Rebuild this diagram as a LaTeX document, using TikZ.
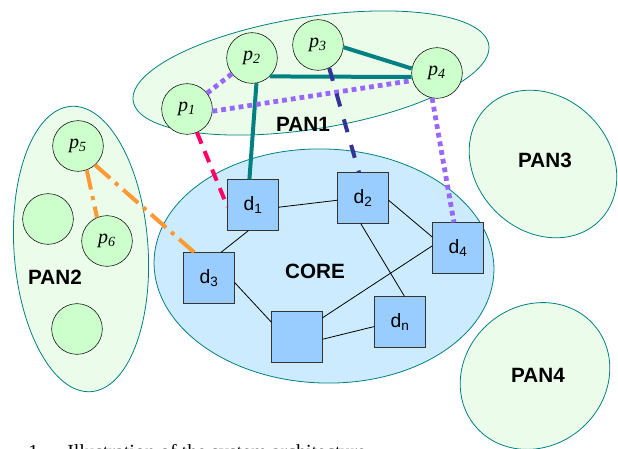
\documentclass[tikz,border=0pt]{standalone}
\usepackage{fontspec}
\setmainfont{Liberation Serif}
\setsansfont{Liberation Sans}
\definecolor{panline}{HTML}{008080}
\definecolor{panfill}{HTML}{EBFCEB}
\definecolor{corefill}{HTML}{CCEBFF}
\definecolor{peerfill}{HTML}{CCFFCC}
\definecolor{devfill}{HTML}{99CCFF}
\definecolor{lilac}{HTML}{9966FF}
\definecolor{navy}{HTML}{333399}
\definecolor{rose}{HTML}{FF0066}
\definecolor{amber}{HTML}{FF9933}
\begin{document}
\begin{tikzpicture}[x=0.75pt,y=-0.75pt,
  pan/.style={draw=panline, fill=panfill, line width=0.6pt},
  peer/.style={draw, circle, fill=peerfill, minimum size=38pt, inner sep=0pt,
    font=\fontsize{15}{15}\selectfont\itshape},
  dev/.style={draw=black!80, fill=devfill, minimum size=38pt, inner sep=0pt,
    font=\fontsize{14.5}{14.5}\sffamily},
  group/.style={font=\fontsize{15.5}{16}\sffamily\bfseries},
  corelink/.style={line width=0.6pt},
  teallink/.style={draw=panline, line width=3pt},
  lilaclink/.style={draw=lilac, line width=3.6pt, dash pattern=on 3.6pt off 3pt},
  navylink/.style={draw=navy, line width=3pt, dash pattern=on 10pt off 10pt},
  roselink/.style={draw=rose, line width=3pt, dash pattern=on 9pt off 6pt},
  amberlink/.style={draw=amber, line width=3pt, dash pattern=on 15pt off 5pt on 3pt off 5pt}]
  \useasboundingbox (0,0) rectangle (618,449);
  \clip (0,0) rectangle (618,449);
  % areas
  \draw[pan] (311,73) ellipse [x radius=180, y radius=56, rotate=9];
  \draw[pan] (81,249) ellipse [x radius=67, y radius=143, rotate=4];
  \draw[pan] (543,164) ellipse [x radius=80, y radius=67, rotate=-45];
  \draw[pan] (535,376) ellipse [x radius=78, y radius=70, rotate=40];
  \draw[draw=panline, fill=corefill, line width=0.6pt] (324,266) ellipse [x radius=170, y radius=117, rotate=-2];
  \node[group] (pan1) at (303,124) {PAN1};
  \node[group] (pan2) at (55,277) {PAN2};
  \node[group] (pan3) at (545,160) {PAN3};
  \node[group] (pan4) at (538,375) {PAN4};
  \node[group] (core) at (315,271) {CORE};
  % peers
  \node[peer] (p1) at (187,109) {p\textsubscript{1}};
  \node[peer] (p2) at (252,58) {p\textsubscript{2}};
  \node[peer] (p3) at (318,45) {p\textsubscript{3}};
  \node[peer] (p4) at (437,73) {p\textsubscript{4}};
  \node[peer] (p5) at (78,146) {p\textsubscript{5}};
  \node[peer] (p6) at (107,241) {p\textsubscript{6}};
  \node[peer] (q1) at (48,219) {};
  \node[peer] (q2) at (77,329) {};
  % devices
  \node[dev] (d1) at (253,205) {d\textsubscript{1}};
  \node[dev] (d2) at (363,198) {d\textsubscript{2}};
  \node[dev] (d3) at (209,278) {d\textsubscript{3}};
  \node[dev] (d4) at (458,248) {d\textsubscript{4}};
  \node[dev] (dn) at (400,322) {d\textsubscript{n}};
  \node[dev] (dx) at (297,337) {};
  % core links
  \draw[corelink] (d1.-5) -- (d2.185);
  \draw[corelink] (d1.-100) -- (d3.65);
  \draw[corelink] (d2.-5) -- (d4.157);
  \draw[corelink] (d2.265) -- (dn.80);
  \draw[corelink] (d3.-10) -- (dx.150);
  \draw[corelink] (dx.37) -- (d4.175);
  \draw[corelink] (dx.-5) -- (dn.190);
  % pan links
  \draw[teallink] (p2.-46) -- (p4.189);
  \draw[teallink] (p3.-5) -- (p4.170);
  \draw[teallink] (p2.-80) -- (d1.98);
  \draw[lilaclink] (p1) -- (p2);
  \draw[lilaclink] (p1.-5) -- (p4.197);
  \draw[lilaclink] (p4.259) -- (d4.99);
  \draw[navylink] (p3.-64) -- (d2.99);
  \draw[roselink] (p1.-67) -- (d1.184);
  \draw[amberlink] (p5.-48) -- (d3.120);
  \draw[amberlink] (p5.-70) -- (p6.113);
  % caption, cut by the frame as in the reference
  \node[anchor=base west, inner sep=0pt, font=\fontsize{15}{15}\selectfont] (caption) at (28,458)
    {1.\hspace{18pt}Illustration of the system architecture};
\end{tikzpicture}
\end{document}
